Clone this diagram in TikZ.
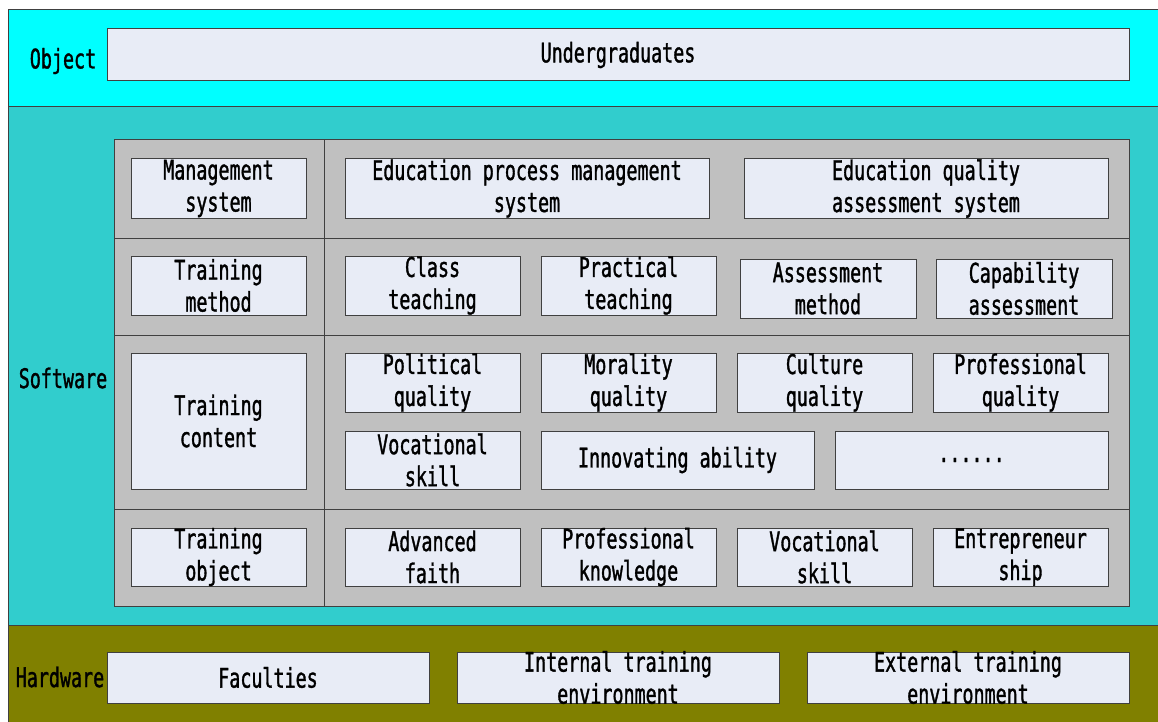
\documentclass[tikz,border=0pt]{standalone}
\usepackage{fontspec}
\newfontfamily\simfont[FakeStretch=0.68,FakeBold=1.2]{DejaVu Sans Mono}
\definecolor{objcol}{HTML}{00FFFF}
\definecolor{softcol}{HTML}{31CDCD}
\definecolor{hardcol}{HTML}{808000}
\definecolor{panelcol}{HTML}{C0C0C0}
\definecolor{boxfill}{HTML}{E8ECF6}
\definecolor{boxline}{HTML}{404040}
\newcommand\bx[6]{\path[box] (#2,#3) rectangle (#4,#5);
  \node[lbl] (#1) at ({(#2+#4)/2},{(#3+#5)/2}) {#6};}
\begin{document}
\begin{tikzpicture}[x=1pt,y=-1pt,
  box/.style={draw=boxline, fill=boxfill, line width=1pt},
  band/.style={draw=boxline, line width=1pt},
  lbl/.style={font=\simfont\fontsize{27}{32}\selectfont, align=center, inner sep=0pt, text=black}]
\useasboundingbox (0,0) rectangle (1158,722);
% bands
\path[band, fill=objcol] (8,10) rectangle (1162,107);
\path[band, fill=softcol] (8,107) rectangle (1162,625);
\path[band, fill=hardcol] (8,625) rectangle (1162,726);
% labels of bands
\node[lbl] (obj) at (63,61) {Object};
\node[lbl] (soft) at (63,378) {Software};
\node[lbl] (hard) at (60,677) {Hardware};
% object
\bx{ug}{107}{29}{1129}{81}{Undergraduates}
% panel
\path[band, fill=panelcol] (114,140) rectangle (1129,606);
\draw[boxline, line width=1pt] (324,140) -- (324,606);
\draw[boxline, line width=1pt] (114,238) -- (1129,238);
\draw[boxline, line width=1pt] (114,335) -- (1129,335);
\draw[boxline, line width=1pt] (114,509) -- (1129,509);
% row 1
\bx{ms}{131}{159}{306}{218}{Management\\system}
\bx{epm}{345}{159}{709}{218}{Education process management\\system}
\bx{eqa}{744}{159}{1108}{218}{Education quality\\assessment system}
% row 2
\bx{tm}{131}{256}{306}{315}{Training\\method}
\bx{ct}{345}{256}{520}{315}{Class\\teaching}
\bx{pt}{541}{256}{716}{315}{Practical\\teaching}
\bx{am}{740}{259}{916}{318}{Assessment\\method}
\bx{ca}{936}{259}{1112}{318}{Capability\\assessment}
% row 3
\bx{tc}{131}{353}{306}{489}{Training\\content}
\bx{pq}{345}{353}{520}{412}{Political\\quality}
\bx{mq}{541}{353}{716}{412}{Morality\\quality}
\bx{cq}{737}{353}{912}{412}{Culture\\quality}
\bx{prq}{933}{353}{1108}{412}{Professional\\quality}
\bx{vs}{345}{431}{520}{489}{Vocational\\skill}
\bx{ia}{541}{431}{814}{489}{Innovating ability}
\bx{dots}{835}{431}{1108}{489}{......}
% row 4
\bx{to}{131}{528}{306}{586}{Training\\object}
\bx{af}{345}{528}{520}{586}{Advanced\\faith}
\bx{pk}{541}{528}{716}{586}{Professional\\knowledge}
\bx{vs2}{737}{528}{912}{586}{Vocational\\skill}
\bx{es}{933}{528}{1108}{586}{Entrepreneur\\ship}
% hardware
\bx{fac}{107}{652}{429}{703}{Faculties}
\bx{ite}{457}{652}{779}{703}{Internal training\\environment}
\bx{ete}{807}{652}{1129}{703}{External training\\environment}
\end{tikzpicture}
\end{document}
